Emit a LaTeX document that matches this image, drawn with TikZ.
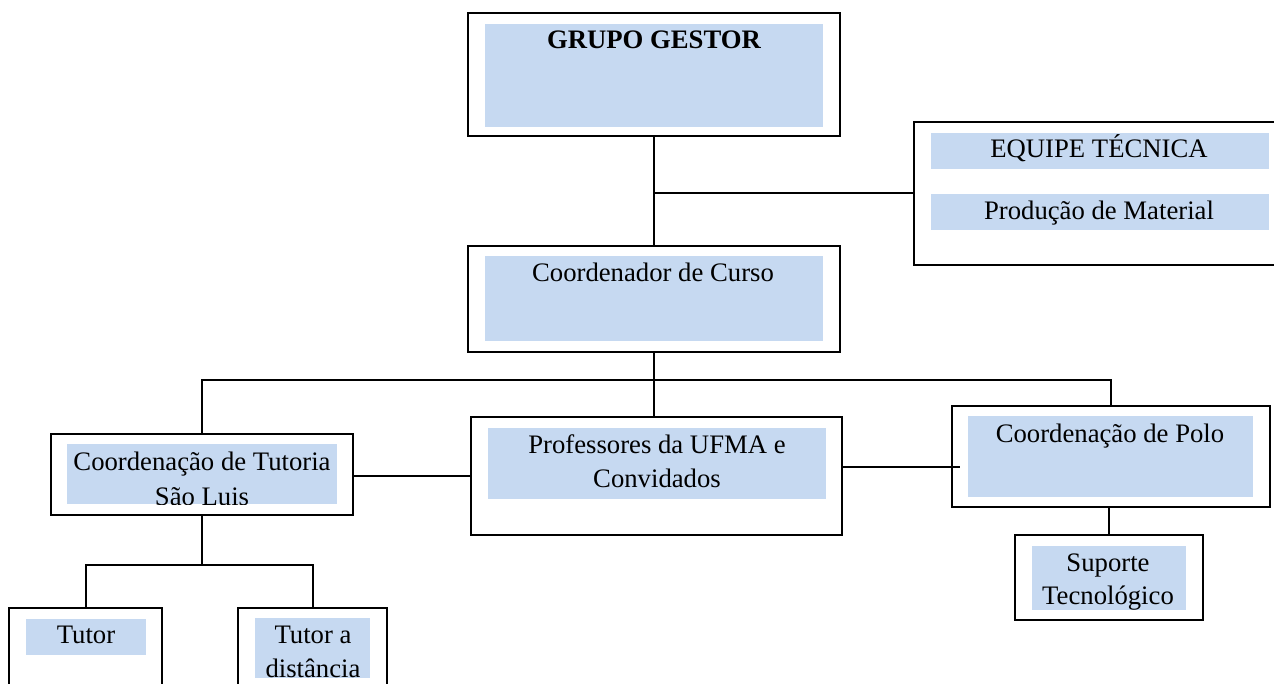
\documentclass[tikz,border=0pt]{standalone}
\usepackage{fontspec}
\setmainfont{Liberation Serif}
\usetikzlibrary{fit}
\definecolor{boxfill}{RGB}{198,217,241}
\tikzset{
  outerbox/.style={draw=black, line width=2pt, inner sep=0pt, outer sep=0pt, rectangle},
  fillbox/.style={fill=boxfill, draw=none, inner sep=0pt, outer sep=0pt, rectangle},
  lbl/.style={anchor=base, inner sep=0pt, font=\fontsize{26.7}{34}\selectfont},
  conn/.style={draw=black, line width=2pt}
}
\begin{document}
\begin{tikzpicture}[x=1pt,y=-1pt]
\clip (0,0) rectangle (1274,684);
\fill[white] (0,0) rectangle (1274,684);
% outer boxes
\node[outerbox, fit={(468,13) (840,136)}] (gg) {};
\node[outerbox, fit={(914,122) (1290,265)}] (et) {};
\node[outerbox, fit={(468,246) (840,352)}] (cc) {};
\node[outerbox, fit={(51,434) (353,515)}] (ct) {};
\node[outerbox, fit={(471,417) (842,535)}] (pu) {};
\node[outerbox, fit={(952,406) (1270,507)}] (cp) {};
\node[outerbox, fit={(1015,535) (1203,620)}] (st) {};
\node[outerbox, fit={(9,608) (162,700)}] (tu) {};
\node[outerbox, fit={(238,608) (387,700)}] (td) {};
% fills
\node[fillbox, fit={(485,24) (823,127)}] (ggf) {};
\node[fillbox, fit={(931,133) (1269,169)}] (etf) {};
\node[fillbox, fit={(931,194) (1269,230)}] (pmf) {};
\node[fillbox, fit={(485,256) (823,341)}] (ccf) {};
\node[fillbox, fit={(67,444) (337,504)}] (ctf) {};
\node[fillbox, fit={(488,428) (826,499)}] (puf) {};
\node[fillbox, fit={(968,416) (1253,497)}] (cpf) {};
\node[fillbox, fit={(1032,546) (1186,610)}] (stf) {};
\node[fillbox, fit={(26,619) (146,655)}] (tuf) {};
\node[fillbox, fit={(255,618) (370,678)}] (tdf) {};
% texts
\node[lbl, font=\fontsize{26.7}{34}\selectfont\bfseries] (t1) at (654,49) {GRUPO GESTOR};
\node[lbl] (t2) at (1099,158) {EQUIPE TÉCNICA};
\node[lbl] (t3) at (1099,220) {Produção de Material};
\node[lbl] (t4) at (653,282) {Coordenador de Curso};
\node[lbl] (t5) at (202,470) {Coordenação de Tutoria};
\begin{scope}
\clip (ctf.north west) rectangle (ctf.south east);
\node[lbl] (t6) at (202,505) {São Luis};
\end{scope}
\node[lbl] (t7) at (657,453) {Professores da UFMA e};
\node[lbl] (t8) at (657,487) {Convidados};
\node[lbl] (t9) at (1110,442) {Coordenação de Polo};
\node[lbl] (t10) at (1108,571) {Suporte};
\node[lbl] (t11) at (1108,604) {Tecnológico};
\node[lbl] (t12) at (86,643) {Tutor};
\node[lbl] (t13) at (313,643) {Tutor a};
\begin{scope}
\clip (tdf.north west) rectangle (tdf.south east);
\node[lbl] (t14) at (313,677) {distância};
\end{scope}
% connectors
\coordinate (bus) at (654,380);
\coordinate (pp) at (960,467);
\coordinate (tb) at (202,565);
\draw[conn] (gg.south) -- (cc.north);
\draw[conn] (et.west) -- (et.west -| gg.south);
\draw[conn] (cc.south) -- (cc.south |- pu.north);
\draw[conn] (ct.north) |- (bus) -| (cp.north);
\draw[conn] (pu.west) -- (pu.west -| ct.east);
\draw[conn] (pp -| pu.east) -- (pp);
\draw[conn] (st.north) -- (st.north |- cp.south);
\draw[conn] (ct.south) -- (tb);
\draw[conn] (tu.north) |- (tb) -| (td.north);
\end{tikzpicture}
\end{document}
